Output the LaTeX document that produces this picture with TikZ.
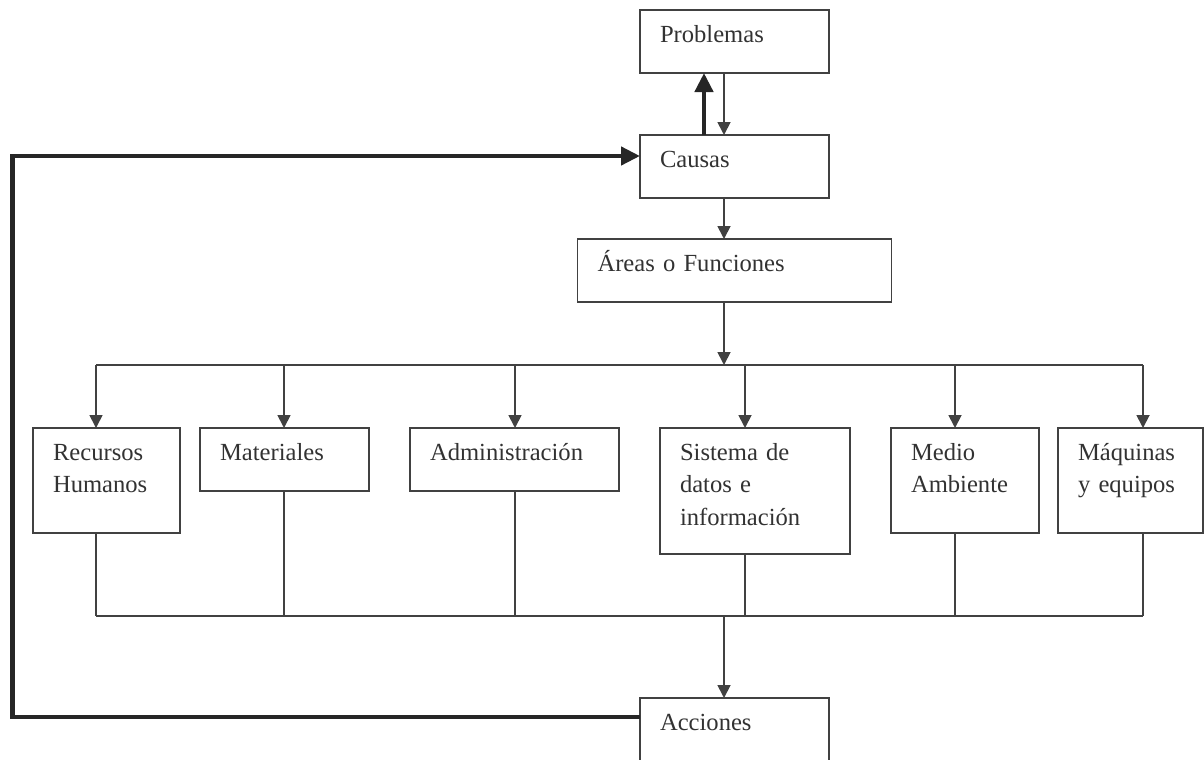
\documentclass[tikz,border=0pt]{standalone}
\usepackage{fontspec}
\setmainfont{Liberation Serif}
\usetikzlibrary{arrows.meta,positioning}
\definecolor{linegray}{RGB}{65,65,65}
\definecolor{textgray}{RGB}{50,50,50}

\begin{document}
\begin{tikzpicture}[y=-1cm, font=\fontsize{14pt}{18.5pt}\selectfont,
box/.style={draw=linegray, line width=1pt, text=textgray, inner xsep=0.4cm, inner ysep=0pt, outer sep=0pt, align=left, text height=0.64cm, anchor=north west},
dims/.style 2 args={text width=#1, text depth=#2},
line/.style={line width=1pt, linegray},
arrow/.style={-{Triangle[length=2.6mm, width=2.6mm]}, line width=1pt, linegray},
bigarrow/.style={-{Triangle[length=3.8mm, width=3.6mm]}, line width=2.5pt, black!85}]
\clip (0,0) rectangle (24.08,15.18);
% central column
\node[box, dims={2.98cm}{0.62cm}] (prob) at (12.8,0.2) {Problemas};
\node[box, dims={2.98cm}{0.62cm}, below=1.24cm of prob] (causas) {Causas};
\node[box, dims={5.48cm}{0.62cm}, below=0.82cm of causas] (areas) {Áreas o Funciones};
\node[box, dims={2.98cm}{0.62cm}, below=10cm of causas] (acc) {Acciones};
% areas
\node[box, dims={2.14cm}{1.46cm}] (rh) at (0.66,8.56) {Recursos\\Humanos};
\node[box, dims={2.58cm}{0.62cm}, right=0.4cm of rh.north east, anchor=north west] (mat) {Materiales};
\node[box, dims={3.38cm}{0.62cm}, right=0.82cm of mat.north east, anchor=north west] (adm) {Administración};
\node[box, dims={3.0cm}{1.88cm}, right=0.82cm of adm.north east, anchor=north west] (sis) {Sistema de\\datos e\\información};
\node[box, dims={2.16cm}{1.46cm}, right=0.82cm of sis.north east, anchor=north west] (med) {Medio\\Ambiente};
\node[box, dims={2.1cm}{1.46cm}, right=0.38cm of med.north east, anchor=north west] (maq) {Máquinas\\y equipos};

\coordinate (bus1) at (0,7.3);
\coordinate (bus2) at (0,12.32);
\coordinate (lft) at (0.25,0);
\coordinate (mid) at ([xshift=1.68cm]causas.south west);
\coordinate (accw) at ([yshift=-0.38cm]acc.north west);

\draw[bigarrow] ([xshift=1.28cm]causas.north west) -- ([xshift=1.28cm]prob.south west);
\draw[arrow] ([xshift=1.68cm]prob.south west) -- (mid |- causas.north);
\draw[arrow] (mid) -- (mid |- areas.north);
\draw[arrow] (mid |- areas.south) -- (mid |- bus1);

\foreach \n/\dx in {rh/1.26, mat/1.68, adm/2.1, sis/1.7, med/1.28, maq/1.7} {
  \coordinate (\n-x) at ([xshift=\dx cm]\n.north west);
  \draw[arrow] (\n-x |- bus1) -- (\n-x);
  \draw[line] (\n-x |- \n.south) -- (\n-x |- bus2);
}
\draw[line] (rh-x |- bus1) -- (maq-x |- bus1);
\draw[line] (rh-x |- bus2) -- (maq-x |- bus2);
\draw[arrow] (mid |- bus2) -- (mid |- acc.north);

% feedback loop
\draw[bigarrow] (accw) -- (accw -| lft) |- ([yshift=-0.42cm]causas.north west);
\end{tikzpicture}
\end{document}
